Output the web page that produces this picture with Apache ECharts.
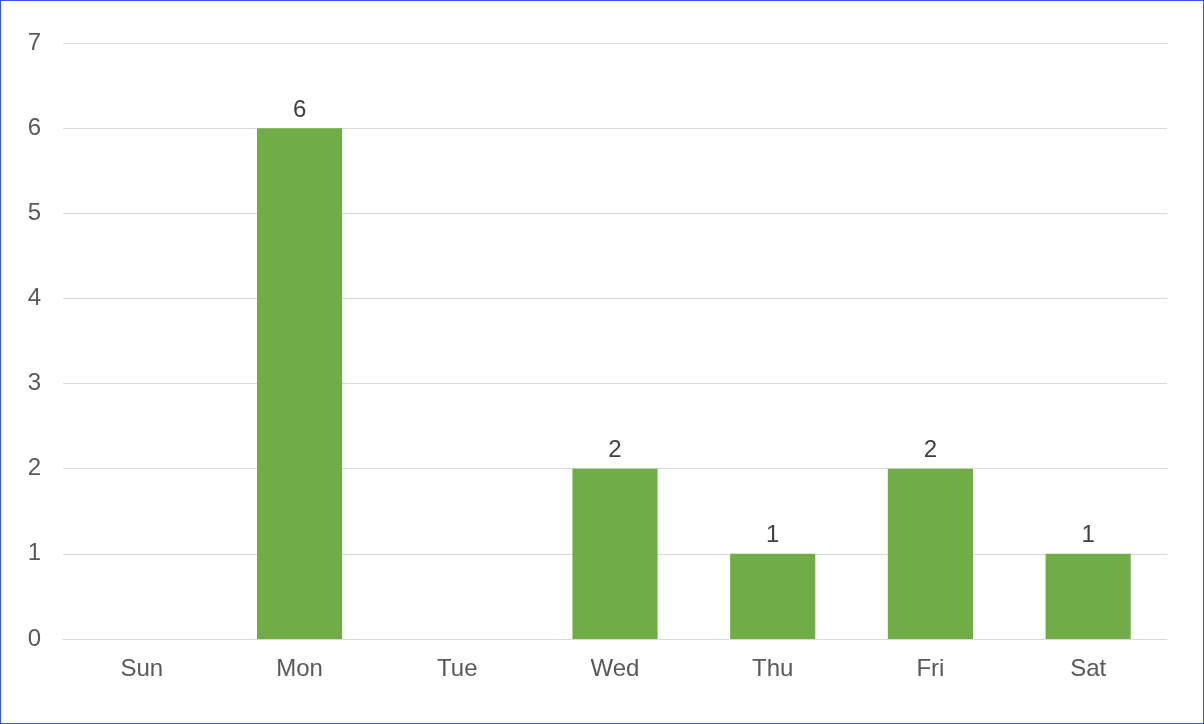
<!DOCTYPE html>
<html><head><meta charset="utf-8">
<script src="https://cdn.jsdelivr.net/npm/echarts@6/dist/echarts.min.js"></script>
<style>html,body{margin:0;padding:0;background:#fff}#c{position:absolute;left:0;top:0;width:1202px;height:722px;border:1px solid #3355ff}</style>
</head><body><div id="c"></div>
<script>
const categories = ['Sun','Mon','Tue','Wed','Thu','Fri','Sat'];
const values = [0,6,0,2,1,2,1];
const yTicks = [0,1,2,3,4,5,6,7];
const chart = echarts.init(document.getElementById('c'));
chart.setOption({
  animation:false,
  grid:{left:62,right:36,top:42,bottom:84},
  xAxis:{type:'category',data:categories,
    axisLine:{lineStyle:{color:'#d9d9d9'}},axisTick:{show:false},
    axisLabel:{color:'#595959',fontSize:24,fontFamily:'Liberation Sans',margin:18}},
  yAxis:{type:'value',min:yTicks[0],max:yTicks[yTicks.length-1],interval:1,
    axisLine:{show:false},axisTick:{show:false},
    splitLine:{lineStyle:{color:'#d9d9d9'}},
    axisLabel:{color:'#595959',fontSize:24,fontFamily:'Liberation Sans',margin:22}},
  series:[{type:'bar',data:values,barWidth:'54%',itemStyle:{color:'#70ad47'},
    label:{show:true,position:'top',color:'#404040',fontSize:24,fontFamily:'Liberation Sans',distance:6,
      formatter:p=>p.value?String(p.value):''}}]
});
</script></body></html>
